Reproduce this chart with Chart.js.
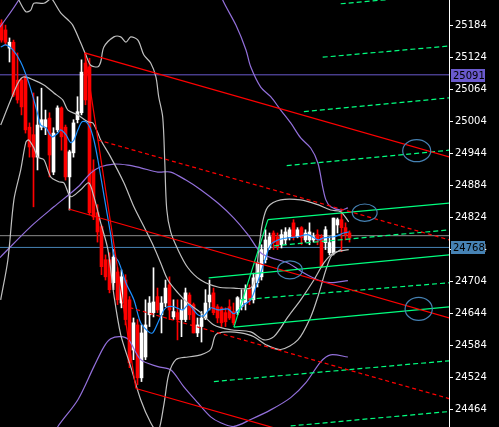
<!DOCTYPE html>
<html>
<head>
<meta charset="utf-8">
<script src="https://cdn.jsdelivr.net/npm/chart.js@4.4.0/dist/chart.umd.min.js"></script>
<style>
  html, body { margin: 0; padding: 0; background: #000; }
  canvas { display: block; }
</style>
</head>
<body>
<canvas id="myChart" width="499" height="427"></canvas>
<script>
// price axis
const tickLabels = [24464, 24524, 24584, 24644, 24704, 24764, 24824, 24884, 24944, 25004, 25064, 25124, 25184];
const priceMin = 24432;
const priceMax = 25231;

// candles (one per bar, left to right)
const opens = [25188, 25175, 25141, 25152, 25081, 25081, 25087, 24993, 24979, 24937,
  24993, 24993, 25010, 24909, 24988, 25029, 24993, 24900, 24945, 25007,
  25020, 25113, 25106, 24913, 24833, 24807, 24745, 24745, 24702, 24722,
  24664, 24707, 24670, 24576, 24623, 24524, 24563, 24642, 24646, 24676,
  24642, 24664, 24698, 24638, 24646, 24633, 24633, 24679, 24661, 24608,
  24620, 24636, 24666, 24683, 24657, 24655, 24646, 24657, 24648, 24646,
  24657, 24664, 24689, 24670, 24702, 24713, 24745, 24767, 24795, 24788,
  24773, 24782, 24788, 24814, 24788, 24805, 24782, 24782, 24782, 24792,
  24788, 24777, 24758, 24758, 24810, 24820, 24805, 24795];
const highs = [25194, 25184, 25160, 25156, 25132, 25085, 25091, 25001, 25057, 25050,
  25066, 25025, 25020, 24992, 25033, 25031, 24997, 24950, 25007, 25050,
  25119, 25132, 25122, 24932, 24848, 24810, 24754, 24758, 24764, 24730,
  24726, 24717, 24676, 24636, 24633, 24623, 24670, 24676, 24730, 24692,
  24676, 24707, 24713, 24670, 24670, 24670, 24692, 24683, 24664, 24636,
  24648, 24689, 24707, 24692, 24661, 24657, 24655, 24670, 24664, 24676,
  24689, 24698, 24698, 24720, 24741, 24773, 24801, 24795, 24799, 24795,
  24801, 24805, 24805, 24820, 24805, 24807, 24801, 24814, 24795, 24801,
  24792, 24807, 24788, 24823, 24823, 24838, 24814, 24799];
const lows = [25152, 25147, 25115, 25050, 25038, 25016, 24982, 24937, 24844, 24913,
  24988, 24979, 24900, 24904, 24984, 24950, 24894, 24838, 24937, 25001,
  25016, 25035, 24829, 24820, 24778, 24717, 24707, 24683, 24689, 24661,
  24655, 24623, 24543, 24558, 24511, 24517, 24558, 24620, 24638, 24646,
  24608, 24657, 24633, 24633, 24595, 24601, 24629, 24633, 24608, 24601,
  24591, 24633, 24651, 24642, 24627, 24620, 24620, 24633, 24623, 24642,
  24651, 24651, 24661, 24664, 24694, 24707, 24739, 24764, 24764, 24764,
  24767, 24773, 24782, 24782, 24786, 24773, 24778, 24773, 24778, 24773,
  24730, 24764, 24754, 24754, 24795, 24760, 24782, 24778];
const closes = [25156, 25152, 25152, 25053, 25044, 25031, 24988, 24956, 24937, 24997,
  25007, 25007, 24941, 24982, 25029, 24975, 24900, 24947, 25001, 25022,
  25096, 25044, 24833, 24825, 24797, 24732, 24713, 24689, 24750, 24670,
  24713, 24633, 24552, 24627, 24524, 24608, 24623, 24664, 24666, 24651,
  24664, 24692, 24651, 24648, 24633, 24651, 24683, 24642, 24608, 24623,
  24636, 24664, 24679, 24646, 24636, 24627, 24629, 24636, 24627, 24674,
  24670, 24689, 24670, 24711, 24739, 24764, 24782, 24788, 24777, 24769,
  24792, 24797, 24801, 24788, 24801, 24786, 24795, 24797, 24788, 24782,
  24732, 24801, 24777, 24823, 24820, 24805, 24792, 24786];

// indicator lines as [bar index, price]
const maLine = [[-0.2,25143],[1.1,25147],[2.8,25138],[4.8,25115],[6.6,25081],[8.1,25044],[9.1,25016],[9.8,24997],
  [11.1,24992],[12.1,24979],[12.8,24975],[14.1,24982],[14.8,24988],[16.1,24979],[17.3,24964],[18.1,24969],
  [19.1,24988],[20.1,25003],[21.1,25003],[22.1,24993],[23.1,24969],[24.1,24932],[25.6,24866],[27.3,24792],
  [28.1,24754],[29.3,24741],[31.1,24702],[33.1,24670],[34.8,24627],[36.8,24610],[37.8,24608],[39.1,24627],
  [40.6,24651],[41.6,24657],[43.1,24657],[45.3,24651],[46.8,24661],[49.1,24642],[50.6,24640],[52.3,24655],
  [54.1,24651],[56.6,24653],[58.1,24644],[60.6,24661],[62.3,24670],[63.6,24694],[64.8,24720],[66.1,24750],
  [67.3,24773],[69.1,24782],[71.6,24786],[74.1,24788],[76.6,24792],[79.1,24782],[80.6,24786],[83.1,24788],
  [85.6,24795],[86.8,24797]];
const bandOuterUp = [[4.3,25231],[6.1,25209],[7.3,25212],[8.1,25225],[10.6,25225],[12.3,25233],[12.8,25231],
  [14.8,25207],[16.6,25194],[17.8,25184],[19.8,25151],[21.1,25128],[22.3,25109],[24.1,25106],[24.8,25115],
  [25.6,25143],[28.1,25162],[29.8,25162],[31.1,25152],[32.3,25162],[34.1,25156],[35.6,25128],[37.3,25113],
  [38.6,25087],[39.3,25050],[40.3,25012],[40.8,24932],[41.3,24840],[42.3,24797],[44.1,24764],[46.6,24730],
  [49.8,24707],[54.1,24694],[58.1,24692],[62.3,24692],[63.6,24717],[64.3,24764],[65.3,24816],[66.6,24844],
  [69.8,24857],[74.8,24857],[79.1,24848],[82.3,24838],[84.8,24835],[86.8,24816]];
const bandInnerUp = [[-0.2,24997],[2.3,25044],[4.3,25078],[5.6,25087],[8.1,25081],[10.6,25072],[13.1,25057],
  [15.3,25044],[16.6,25025],[19.1,25016],[21.6,25003],[22.8,25001],[24.1,24982],[24.8,24969],[27.3,24937],
  [30.6,24889],[33.1,24844],[35.6,24807],[38.1,24769],[39.8,24739],[41.6,24707],[44.1,24683],[46.6,24664],
  [49.8,24646],[53.1,24623],[57.3,24614],[62.3,24610],[65.6,24595],[68.1,24601],[71.6,24638],[74.8,24670],
  [78.1,24707],[80.6,24739],[83.1,24758],[86.8,24764]];
const bandLow = [[-0.2,24670],[1.6,24745],[3.1,24857],[4.8,24913],[6.1,24965],[6.8,24969],[8.1,24954],
  [9.1,24937],[10.6,24932],[12.3,24900],[14.3,24891],[15.6,24889],[17.3,24863],[19.8,24876],[21.8,24889],
  [23.1,24863],[24.8,24814],[26.6,24764],[28.1,24679],[29.8,24605],[32.3,24545],[34.8,24483],[37.3,24440],
  [39.1,24423],[40.6,24474],[41.8,24530],[43.6,24558],[46.6,24563],[49.8,24567],[52.3,24577],[53.6,24605],
  [56.6,24610],[59.8,24608],[63.1,24601],[66.1,24586],[69.8,24577],[74.1,24595],[77.3,24638],[79.1,24676],
  [82.3,24750],[84.8,24764]];
const slowUpLeft = [[-0.4,25180],[4.3,25231],[6,25262]];
const slowUpRight = [[53.5,25270],[55.3,25231],[58.6,25184],[61.1,25138],[62.3,25106],[64.8,25068],[67.3,25050],
  [69.8,25025],[72.3,25001],[74.8,24973],[77.3,24954],[79.1,24926],[80.3,24881],[81.1,24857],[82.3,24844],
  [84.8,24838],[86.6,24842]];
const slowMid = [[-0.4,24749],[7.3,24807],[13.1,24844],[19.1,24881],[22.3,24907],[24.8,24919],[28.1,24924],
  [31.6,24922],[34.8,24917],[39.1,24909],[42.3,24909],[46.1,24894],[49.8,24876],[54.1,24851],[58.1,24823],
  [61.6,24792],[64.8,24758],[67.3,24749],[71.6,24739],[75.6,24720],[79.1,24707],[82.3,24702],[86.6,24706]];
const slowLow = [[12.3,24408],[14.1,24433],[19.1,24483],[23.1,24545],[25.6,24582],[27.3,24597],[29.8,24601],
  [31.8,24595],[34.8,24558],[39.1,24545],[42.3,24539],[45.6,24507],[49.1,24477],[52.3,24451],[54.8,24440],
  [58.1,24433],[62.3,24446],[67.3,24464],[72.3,24487],[76.1,24515],[79.8,24554],[82.3,24567],[86.6,24563]];

// drawn objects: trend channel (red) and pitchfork lines (green)
const redSolid = [
  [[20.8,25132],[112,24937]],
  [[16.8,24840],[112,24636]],
  [[33.6,24504],[112,24337]],
  [[20.8,25132],[33.6,24504]]
];
const redDashed = [
  [[24.1,24969],[112,24782]],
  [[30.3,24659],[112,24485]]
];
const greenSolid = [
  [[66.6,24820],[112,24851]],
  [[51.8,24711],[112,24754]],
  [[58.1,24619],[112,24657]],
  [[58.1,24619],[66.6,24820]]
];
const greenDashed = [
  [[84.8,25224],[112,25242]],
  [[80.3,25124],[112,25145]],
  [[75.6,25022],[112,25048]],
  [[71.3,24921],[112,24950]],
  [[68.1,24771],[112,24801]],
  [[59.8,24670],[112,24702]],
  [[53.1,24517],[112,24556]],
  [[72.3,24434],[112,24461]]
];
// ellipses: [centre bar, centre price, half width in bars, half height in price]
const ellipses = [[103.8,24949,3.5,20.6],[90.8,24833,3.1,16.3],[72.1,24726,3.1,16.8],[104.3,24653,3.4,21.5]];
// horizontal levels: [price, colour]
const levels = [[25091,"#6a5acd"],[24790,"#8c8c8c"],[24768,"#4682b4"]];
// axis markers: [price, box colour]
const priceTags = [[25091,"#6a5acd"],[24768,"#4682b4"]];

const xMin = -0.375;
const xMax = 111.875;

const toPts = (arr) => arr.map(([x, y]) => ({ x, y }));
const candleColor = opens.map((o, i) => (closes[i] < o ? "#ff0000" : "#ffffff"));

const lineSet = (pts, color, dash, order) => ({
  type: "line",
  data: toPts(pts),
  borderColor: color,
  borderWidth: 1.2,
  borderDash: dash || [],
  pointRadius: 0,
  tension: 0.3,
  order: order,
});

const datasets = [];
redSolid.forEach((l) => datasets.push({ ...lineSet(l, "#ff0000", null, 1), tension: 0 }));
redDashed.forEach((l) => datasets.push({ ...lineSet(l, "#ff0000", [4, 3], 1), tension: 0 }));
greenSolid.forEach((l) => datasets.push({ ...lineSet(l, "#00ff7f", null, 1), tension: 0 }));
greenDashed.forEach((l) => datasets.push({ ...lineSet(l, "#00ff7f", [5, 3], 1), tension: 0 }));
datasets.push(lineSet(maLine, "#1e90ff", null, 3));
datasets.push(lineSet(bandOuterUp, "#c0c0c0", null, 4));
datasets.push(lineSet(bandInnerUp, "#c0c0c0", null, 4));
datasets.push(lineSet(bandLow, "#c0c0c0", null, 4));
datasets.push(lineSet(slowUpLeft, "#9370db", null, 4));
datasets.push(lineSet(slowUpRight, "#9370db", null, 4));
datasets.push(lineSet(slowMid, "#9370db", null, 4));
datasets.push(lineSet(slowLow, "#9370db", null, 4));
datasets.push({
  type: "bar",
  data: opens.map((o, i) => ({ x: i, y: [o, closes[i]] })),
  backgroundColor: candleColor,
  barThickness: 3,
  grouped: false,
  order: 8,
});
datasets.push({
  type: "bar",
  data: highs.map((h, i) => ({ x: i, y: [lows[i], h] })),
  backgroundColor: candleColor,
  barThickness: 1,
  grouped: false,
  order: 9,
});
levels.forEach(([p, c]) =>
  datasets.push({ ...lineSet([[xMin, p], [xMax, p]], c, null, 20), tension: 0, borderWidth: 1 })
);

const overlayPlugin = {
  id: "overlay",
  afterDatasetsDraw(chart) {
    const { ctx, chartArea, scales } = chart;
    ctx.save();
    ctx.beginPath();
    ctx.rect(chartArea.left, chartArea.top, chartArea.width, chartArea.height);
    ctx.clip();
    ctx.strokeStyle = "#4682b4";
    ctx.lineWidth = 1.2;
    ellipses.forEach(([cx, cy, rx, ry]) => {
      const px = scales.x.getPixelForValue(cx);
      const py = scales.y.getPixelForValue(cy);
      const prx = Math.abs(scales.x.getPixelForValue(cx + rx) - px);
      const pry = Math.abs(scales.y.getPixelForValue(cy + ry) - py);
      ctx.beginPath();
      ctx.ellipse(px, py, prx, pry, 0, 0, Math.PI * 2);
      ctx.stroke();
    });
    ctx.restore();
  },
  afterDraw(chart) {
    const { ctx, chartArea, scales } = chart;
    ctx.save();
    ctx.font = "10px 'DejaVu Sans'";
    ctx.textBaseline = "middle";
    priceTags.forEach(([p, c]) => {
      const y = Math.round(scales.y.getPixelForValue(p));
      ctx.fillStyle = c;
      ctx.fillRect(chartArea.right + 2, y - 6, 34, 13);
      ctx.fillStyle = "#000";
      ctx.fillText(String(p), chartArea.right + 4, y + 1);
    });
    ctx.restore();
  },
};

new Chart(document.getElementById("myChart").getContext("2d"), {
  type: "line",
  data: { datasets },
  plugins: [overlayPlugin],
  options: {
    responsive: false,
    animation: false,
    devicePixelRatio: 1,
    layout: { padding: 0 },
    plugins: { legend: { display: false }, tooltip: { enabled: false } },
    scales: {
      x: { type: "linear", min: xMin, max: xMax, display: false, offset: false },
      y: {
        type: "linear",
        position: "right",
        min: priceMin,
        max: priceMax,
        afterBuildTicks: (s) => { s.ticks = tickLabels.map((v) => ({ value: v })); },
        afterFit: (s) => { s.width = 50; s.paddingTop = 0; s.paddingBottom = 0; },
        grid: { drawOnChartArea: false, drawTicks: true, tickLength: 4, color: "#ffffff" },
        border: { display: true, color: "#ffffff", width: 1 },
        ticks: {
          color: "#ffffff",
          padding: 2,
          font: { family: "DejaVu Sans", size: 10 },
          callback: (v) => String(v),
        },
      },
    },
  },
});
</script>
</body>
</html>
